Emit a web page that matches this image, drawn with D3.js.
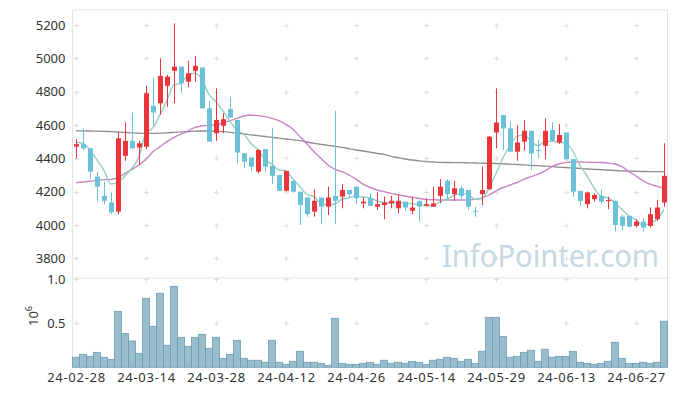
<!DOCTYPE html>
<html>
<head>
<meta charset="utf-8">
<script src="https://cdn.jsdelivr.net/npm/d3@7"></script>
<style>
  html, body { margin: 0; padding: 0; background: #fff; }
  text { font-family: "Noto Sans", "Open Sans", sans-serif; }
</style>
</head>
<body>
<svg id="chart" width="677" height="396"></svg>
<script>
// ---------------- DATA ----------------
const dates = ["24-02-28","24-02-29","24-03-04","24-03-05","24-03-06","24-03-07","24-03-08","24-03-11","24-03-12","24-03-13",
"24-03-14","24-03-15","24-03-18","24-03-19","24-03-20","24-03-21","24-03-22","24-03-25","24-03-26","24-03-27",
"24-03-28","24-03-29","24-04-01","24-04-02","24-04-03","24-04-04","24-04-05","24-04-08","24-04-09","24-04-11",
"24-04-12","24-04-15","24-04-16","24-04-17","24-04-18","24-04-19","24-04-22","24-04-23","24-04-24","24-04-25",
"24-04-26","24-04-29","24-04-30","24-05-02","24-05-03","24-05-07","24-05-08","24-05-09","24-05-10","24-05-13",
"24-05-14","24-05-16","24-05-17","24-05-20","24-05-21","24-05-22","24-05-23","24-05-24","24-05-27","24-05-28",
"24-05-29","24-05-30","24-05-31","24-06-03","24-06-04","24-06-05","24-06-07","24-06-10","24-06-11","24-06-12",
"24-06-13","24-06-14","24-06-17","24-06-18","24-06-19","24-06-20","24-06-21","24-06-24","24-06-25","24-06-26",
"24-06-27","24-06-28","24-07-01","24-07-02","24-07-03"];

const open  = [4470,4485,4460,4290,4175,4135,4080,4415,4505,4465,4470,4715,4730,4835,4925,4950,4860,4925,4945,4700,
4550,4595,4695,4630,4430,4405,4320,4455,4355,4300,4205,4265,4200,4165,4080,4165,4110,4175,4170,4210,
4230,4130,4160,4110,4120,4130,4100,4140,4085,4145,4115,4110,4175,4265,4185,4220,4210,4085,4185,4215,
4555,4660,4580,4440,4500,4565,4450,4475,4570,4495,4555,4395,4205,4125,4155,4175,4145,4145,4050,4055,
3995,4020,3995,4035,4135];
const high  = [4515,4580,4460,4320,4260,4195,4555,4615,4675,4505,4835,4880,5000,4900,5210,4950,4985,5015,4945,4745,
4820,4670,4770,4630,4430,4405,4455,4455,4580,4300,4325,4265,4200,4165,4215,4165,4230,4685,4245,4210,
4230,4165,4190,4195,4170,4175,4185,4140,4170,4145,4160,4230,4275,4275,4265,4235,4210,4110,4350,4535,
4820,4660,4620,4600,4630,4565,4510,4640,4615,4605,4555,4395,4205,4200,4190,4210,4170,4145,4060,4055,
4035,4040,4105,4150,4490];
const low   = [4400,4450,4280,4140,4125,4065,4065,4385,4460,4360,4455,4600,4660,4710,4730,4790,4825,4860,4700,4500,
4505,4550,4645,4370,4340,4325,4310,4320,4245,4205,4200,4195,4000,4050,4050,4005,4060,4005,4100,4165,
4125,4100,4115,4090,4035,4100,4070,4085,4065,4020,4110,4110,4130,4150,4145,4155,4090,4050,4120,4210,
4460,4450,4440,4385,4445,4330,4400,4395,4500,4485,4385,4170,4115,4100,4140,4125,4095,3960,3970,3985,
3985,3960,3985,4025,4110];
const close = [4485,4460,4320,4230,4145,4075,4520,4505,4460,4490,4790,4675,4895,4890,4950,4850,4910,4955,4700,4500,
4630,4635,4645,4435,4380,4350,4450,4350,4295,4205,4325,4200,4120,4065,4145,4110,4165,4145,4210,4185,
4160,4140,4115,4125,4135,4145,4145,4105,4105,4110,4125,4130,4230,4185,4220,4175,4110,4080,4210,4530,
4615,4580,4440,4495,4565,4430,4445,4565,4505,4540,4395,4200,4145,4195,4180,4140,4150,4000,3995,3990,
4020,3985,4065,4105,4295];

// moving averages as drawn (short / mid / long)
const maShort = [4495,4490,4450,4390,4328,4246,4258,4295,4341,4410,4553,4584,4662,4748,4840,4852,4899,4911,4873,4783,
4739,4684,4622,4569,4545,4489,4452,4393,4365,4330,4325,4275,4229,4183,4171,4128,4121,4126,4155,4163,
4173,4168,4162,4145,4135,4132,4133,4131,4127,4122,4118,4115,4140,4156,4178,4188,4184,4154,4159,4221,
4309,4403,4475,4532,4539,4502,4475,4500,4502,4497,4490,4441,4357,4295,4223,4172,4162,4133,4093,4055,
4031,3998,4011,4033,4094];
const maMid = [4254,4258,4263,4268,4272,4274,4285,4310,4334,4360,4395,4440,4470,4500,4526,4545,4564,4586,4594,4598,
4600,4614,4626,4640,4654,4660,4656,4650,4640,4626,4604,4574,4530,4486,4440,4400,4360,4334,4320,4300,
4275,4245,4225,4210,4200,4190,4182,4174,4166,4160,4154,4152,4150,4150,4150,4150,4151,4154,4162,4180,
4205,4225,4240,4255,4275,4290,4305,4325,4350,4366,4376,4378,4378,4377,4376,4375,4372,4366,4350,4320,
4295,4265,4245,4232,4220];
const maLong = [4565,4565,4564,4563,4562,4560,4558,4556,4553,4551,4550,4550,4551,4553,4556,4559,4561,4563,4564,4564,
4563,4560,4556,4551,4546,4541,4536,4531,4526,4521,4516,4511,4506,4498,4490,4484,4478,4472,4466,4458,
4450,4444,4437,4430,4424,4412,4404,4396,4390,4385,4380,4378,4376,4375,4374,4374,4373,4372,4371,4370,
4369,4367,4365,4363,4361,4358,4356,4353,4350,4347,4345,4342,4339,4336,4334,4332,4330,4327,4325,4323,
4322,4321,4320,4320,4320];

// volume in millions of shares
const volume = [0.114,0.148,0.125,0.170,0.114,0.091,0.636,0.386,0.299,0.159,0.784,0.466,0.841,0.250,0.920,0.341,0.239,0.341,0.375,0.216,
0.341,0.102,0.148,0.307,0.102,0.080,0.080,0.057,0.307,0.057,0.034,0.068,0.182,0.057,0.057,0.045,0.023,0.557,0.045,0.034,
0.034,0.045,0.057,0.034,0.080,0.045,0.057,0.045,0.068,0.057,0.034,0.080,0.091,0.114,0.102,0.068,0.091,0.045,0.182,0.568,
0.568,0.352,0.114,0.125,0.170,0.193,0.068,0.205,0.114,0.125,0.125,0.182,0.057,0.045,0.034,0.045,0.068,0.284,0.102,0.045,
0.045,0.057,0.045,0.057,0.523];

const priceTicks = [3800,4000,4200,4400,4600,4800,5000,5200];
const volTicks = [0.5, 1.0];
const xTickIdx = [0,10,20,30,40,50,60,70,80];

// ---------------- DRAW ----------------
const svg = d3.select("#chart");
const L = 72.5, R = 667.5, PT = 10, PB = 278, VT = 278, VB = 367.3;
const n = dates.length;

const x = d3.scaleLinear().domain([-0.5, n - 0.5]).range([L, R]);
const y = d3.scaleLinear().domain([3682, 5290]).range([PB, PT]);
const yv = d3.scaleLinear().domain([0, 1.015]).range([VB, VT]);

svg.append("rect").attr("width", 677).attr("height", 396).attr("fill", "#fff");

// frames
const frame = svg.append("g").attr("stroke", "#e3e3e3").attr("fill", "none").attr("stroke-width", 1);
frame.append("line").attr("x1", L).attr("x2", R).attr("y1", PT).attr("y2", PT);
frame.append("line").attr("x1", L).attr("x2", R).attr("y1", PB).attr("y2", PB);
frame.append("line").attr("x1", L).attr("x2", L).attr("y1", PT).attr("y2", VB);
frame.append("line").attr("x1", R).attr("x2", R).attr("y1", PT).attr("y2", VB);

// grid plus marks
const plus = svg.append("g").attr("stroke", "#dedede").attr("stroke-width", 1);
function addPlus(cx, cy) {
  plus.append("line").attr("x1", cx - 2.5).attr("x2", cx + 2.5).attr("y1", cy).attr("y2", cy);
  plus.append("line").attr("x1", cx).attr("x2", cx).attr("y1", cy - 2.5).attr("y2", cy + 2.5);
}
xTickIdx.forEach(i => {
  priceTicks.forEach(v => addPlus(Math.round(x(i)) + 0.5, Math.round(y(v)) + 0.5));
  volTicks.forEach(v => addPlus(Math.round(x(i)) + 0.5, Math.round(yv(v)) + 0.5));
});

// watermark
svg.append("text")
  .attr("x", 442).attr("y", 267)
  .attr("textLength", 217).attr("lengthAdjust", "spacingAndGlyphs")
  .attr("font-family", "'Open Sans', sans-serif")
  .attr("font-size", 31)
  .attr("fill", "#c5d8e3")
  .text("InfoPointer.com");

// volume bars
const bw = x(1) - x(0);
svg.append("g").selectAll("rect").data(volume).join("rect")
  .attr("x", (d, i) => x(i) - bw / 2)
  .attr("width", bw)
  .attr("y", d => yv(d))
  .attr("height", d => VB - yv(d))
  .attr("fill", "#98bdcd")
  .attr("stroke", "#6d9db4")
  .attr("stroke-width", 0.8);

// moving averages
const line = arr => d3.line().x((d, i) => x(i)).y(d => y(d)).curve(d3.curveMonotoneX)(arr);
svg.append("path").attr("d", line(maLong)).attr("fill", "none").attr("stroke", "#8f8f8f").attr("stroke-width", 1.4);
svg.append("path").attr("d", line(maMid)).attr("fill", "none").attr("stroke", "#c985c4").attr("stroke-width", 1.4);
svg.append("path").attr("d", line(maShort)).attr("fill", "none").attr("stroke", "#93cfc2").attr("stroke-width", 1.4);

// candles
const up = "#ea353b", down = "#6bc1d7";
const cg = svg.append("g");
const idx = d3.range(n);
cg.selectAll("line.w").data(idx).join("line")
  .attr("x1", i => Math.round(x(i)) + 0.5).attr("x2", i => Math.round(x(i)) + 0.5)
  .attr("y1", i => y(high[i])).attr("y2", i => y(low[i]))
  .attr("stroke", i => close[i] >= open[i] ? up : down).attr("stroke-width", 1);
const cw = 5;
cg.selectAll("rect").data(idx).join("rect")
  .attr("x", i => Math.round(x(i)) + 0.5 - cw / 2)
  .attr("width", cw)
  .attr("y", i => y(Math.max(open[i], close[i])))
  .attr("height", i => Math.max(1, Math.abs(y(open[i]) - y(close[i]))))
  .attr("fill", i => close[i] >= open[i] ? up : down);

// axes
const axisColor = "#333";
const ya = svg.append("g").attr("transform", `translate(${L - 4},0)`)
  .call(d3.axisLeft(y).tickValues(priceTicks).tickSize(0).tickFormat(d3.format("d")));
const yva = svg.append("g").attr("transform", `translate(${L - 4},0)`)
  .call(d3.axisLeft(yv).tickValues(volTicks).tickSize(0).tickFormat(d3.format(".1f")));
const xa = svg.append("g").attr("transform", `translate(0,${VB + 2})`)
  .call(d3.axisBottom(x).tickValues(xTickIdx).tickSize(0).tickFormat(i => dates[i]));
[ya, yva, xa].forEach(g => {
  g.select(".domain").remove();
  g.selectAll("text").attr("fill", axisColor).attr("font-size", 13)
    .attr("font-family", "'Noto Sans', 'Open Sans', sans-serif");
});
xa.selectAll("text").attr("letter-spacing", "0.7px");

// volume multiplier label
const ml = svg.append("text")
  .attr("transform", "translate(38,326) rotate(-90)")
  .attr("fill", axisColor).attr("font-size", 13);
ml.append("tspan").text("10");
ml.append("tspan").attr("dy", -6).attr("font-size", 9).text("6");
</script>
</body>
</html>
